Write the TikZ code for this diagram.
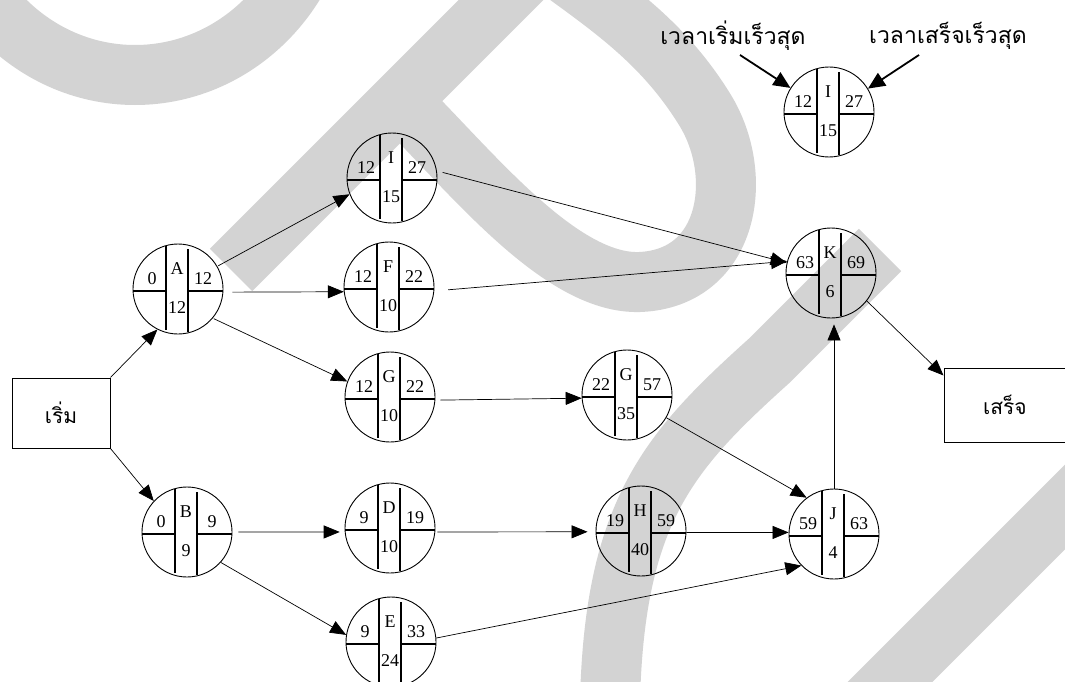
\documentclass[tikz,border=0pt]{standalone}
\usepackage{fontspec}
\setmainfont{Liberation Serif}
\newfontfamily\thaifont[Script=Thai]{Loma}
\usetikzlibrary{arrows.meta}
\definecolor{wm}{RGB}{211,211,211}
\tikzset{
  band/.style={draw=wm, line width=60pt, line cap=butt},
  actc/.style={circle, draw, line width=0.9pt, minimum size=90pt, inner sep=0pt},
  divider/.style={line width=1.8pt},
  num/.style={inner sep=0pt, font=\fontsize{18}{18}\selectfont},
  link/.style={line width=0.7pt, -{Triangle[length=16pt,width=13pt]}},
  boxnode/.style={draw, line width=1pt, minimum width=98pt, minimum height=70pt, inner sep=0pt,
    font=\thaifont\fontsize{21}{21}\selectfont},
  legendtext/.style={inner sep=0pt, font=\thaifont\fontsize{23}{23}\selectfont},
  pointer/.style={line width=1.8pt, -{Triangle[length=17pt,width=15pt]}}
}
% activity circle: name, position, label, early start, early finish, duration
\newcommand{\activity}[6]{%
  \node[actc] (#1) at (#2) {};
  \begin{scope}[shift={(#1.center)}]
    \draw[divider] (-12,-43) -- (-12,41);
    \draw[divider] (10,-40) -- (10,43);
    \draw[divider] (-45,2) -- (-12,2);
    \draw[divider] (10,2) -- (45,2);
    \node[num] (#1-name) at (-1,-20) {#3};
    \node[num] (#1-es) at (-26,-10) {#4};
    \node[num] (#1-ef) at (25,-10) {#5};
    \node[num] (#1-dur) at (-1,19) {#6};
  \end{scope}
}
\begin{document}
\begin{tikzpicture}[x=1pt,y=-1pt]
\useasboundingbox (0,0) rectangle (1065,682);

% background watermark strokes
\path[band] (-55,-125) .. controls (-55,-15) and (30,75) .. (135,75)
            .. controls (240,75) and (325,-15) .. (325,-125);
\path[band] (231,270) -- (531,-30);
\path[band] (400,101) .. controls (470,170) and (560,285) .. (640,282)
            .. controls (730,278) and (745,175) .. (705,110)
            .. controls (665,45) and (615,10) .. (560,-30);
\path[band] (880,250) -- (770,360) .. controls (670,450) and (615,510) .. (610,700);
\path[band] (1120,452) -- (860,712);

% start and finish boxes
\node[boxnode] (st) at (61,413) {เริ่ม};
\node[boxnode, minimum width=122pt, minimum height=74pt] (en) at (1005,405) {เสร็จ};

% activities
\activity{LI}{829,112}{I}{12}{27}{15}
\activity{I}{392,178}{I}{12}{27}{15}
\activity{A}{178,289}{A}{0}{12}{12}
\activity{F}{389,287}{F}{12}{22}{10}
\activity{K}{831,273}{K}{63}{69}{6}
\activity{G1}{390,397}{G}{12}{22}{10}
\activity{G2}{627,395}{G}{22}{57}{35}
\activity{B}{187,532}{B}{0}{9}{9}
\activity{D}{390,528}{D}{9}{19}{10}
\activity{H}{641,531}{H}{19}{59}{40}
\activity{J}{834,534}{J}{59}{63}{4}
\activity{E}{391,642}{E}{9}{33}{24}

% precedence links
\draw[link] (st.north east) -- (A.243);
\draw[link] (st.south east) -- (B.137);
\draw[link, shorten <=1pt] (A.30) -- (I.201);
\draw[link, shorten <=9pt] (A.-4) -- (F.186);
\draw[link, shorten <=1pt] (A.-40) -- (G1.160);
\draw[link, shorten <=6pt] (I.9) -- (K.167);
\draw[link, shorten <=14pt] (F.-5) -- (K.165);
\draw[link, shorten <=5pt] (G1.-4) -- (G2.184);
\draw[link] (G2.-30) -- (J.127);
\draw[link, shorten <=6pt, shorten >=5pt] (B.0) -- (D.185);
\draw[link, shorten <=2pt, shorten >=8pt] (D.-5) -- (H.181);
\draw[link] (H.-2) -- (J.178);
\draw[link] (E.5) -- (J.224);
\draw[link] (B.-42) -- (E.171);
\draw[link, shorten >=6pt] (J.north) -- (J.north |- K.south);
\draw[link] (K.-38) -- ([yshift=-8pt]en.north west);

% legend
\node[legendtext] (t1) at (733,36) {เวลาเริ่มเร็วสุด};
\node[legendtext] (t2) at (948,36) {เวลาเสร็จเร็วสุด};
\coordinate (p1) at (740,55);
\coordinate (p2) at (919,55);
\draw[pointer] (p1) -- (LI.148);
\draw[pointer] (p2) -- (LI.31);
\end{tikzpicture}
\end{document}
